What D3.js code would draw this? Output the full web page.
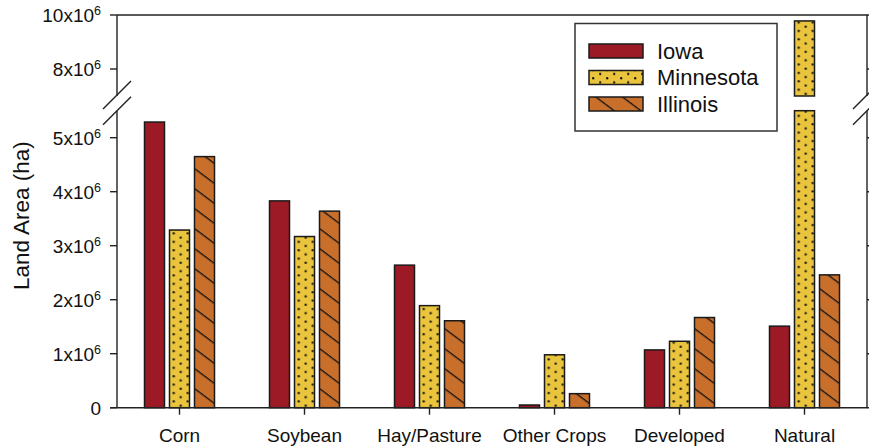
<!DOCTYPE html>
<html>
<head>
<meta charset="utf-8">
<script src="https://cdn.jsdelivr.net/npm/d3@7"></script>
<style>
  html, body { margin: 0; padding: 0; background: #fff; }
  svg { display: block; font-family: "Liberation Sans", Arial, sans-serif; }
</style>
</head>
<body>
<svg id="chart" width="869" height="446"></svg>
<script>
// Land area by land-use class and state (hectares)
const categories = ["Corn", "Soybean", "Hay/Pasture", "Other Crops", "Developed", "Natural"];
const states = ["Iowa", "Minnesota", "Illinois"];
const iowa      = [5.29e6, 3.83e6, 2.64e6, 0.05e6, 1.07e6, 1.51e6];
const minnesota = [3.29e6, 3.17e6, 1.89e6, 0.98e6, 1.23e6, 9.78e6];
const illinois  = [4.65e6, 3.64e6, 1.61e6, 0.26e6, 1.67e6, 2.46e6];

// Broken y axis: lower and upper segments
const lowerDomain = [0, 5.5e6];
const upperDomain = [7e6, 10e6];
const lowerTicks = [0, 1e6, 2e6, 3e6, 4e6, 5e6];
const upperTicks = [8e6, 10e6];

const svg = d3.select("#chart");
const plotLeft = 117, plotRight = 867, plotTop = 15, plotBottom = 407.7;
const lowTop = 110.7, upBottom = 96;

const x = d3.scaleBand().domain(categories).range([plotLeft, plotRight]).padding(0);
const yLow = d3.scaleLinear().domain(lowerDomain).range([plotBottom, lowTop]);
const yUp = d3.scaleLinear().domain(upperDomain).range([upBottom, plotTop]);

const colors = { Iowa: "#9c1a25", Minnesota: "#e9c43c", Illinois: "#c86f2b" };
const barW = 20, barStep = 25;

const defs = svg.append("defs");
let patId = 0;

// Dotted fill anchored at a given left edge
function dotPattern(x0, y0) {
  const id = "dots" + (patId++);
  const p = defs.append("pattern").attr("id", id)
    .attr("patternUnits", "userSpaceOnUse").attr("x", x0).attr("y", y0)
    .attr("width", 14).attr("height", 8.4);
  p.append("rect").attr("width", 14).attr("height", 8.4).attr("fill", colors.Minnesota);
  p.append("circle").attr("cx", 4.2).attr("cy", 2.1).attr("r", 1.15).attr("fill", "#111");
  p.append("circle").attr("cx", 11.2).attr("cy", 6.3).attr("r", 1.15).attr("fill", "#111");
  return "url(#" + id + ")";
}

// Diagonal hatch fill anchored at a given corner
function hatchPattern(x0, y0) {
  const id = "hatch" + (patId++);
  const p = defs.append("pattern").attr("id", id)
    .attr("patternUnits", "userSpaceOnUse").attr("width", 16).attr("height", 16)
    .attr("patternTransform", `translate(${x0},${y0}) rotate(36.87)`);
  p.append("rect").attr("width", 16).attr("height", 16).attr("fill", colors.Illinois);
  p.append("line").attr("x1", 0).attr("x2", 16).attr("y1", 0.5).attr("y2", 0.5)
    .attr("stroke", "#111").attr("stroke-width", 1.6);
  return "url(#" + id + ")";
}

function fillFor(state, x0, y0) {
  if (state === "Minnesota") return dotPattern(x0, y0);
  if (state === "Illinois") return hatchPattern(x0, y0);
  return colors.Iowa;
}

const series = { Iowa: iowa, Minnesota: minnesota, Illinois: illinois };

// Bars
const barG = svg.append("g");
states.forEach((s, si) => {
  series[s].forEach((v, ci) => {
    const cx = x(categories[ci]) + x.bandwidth() / 2 + (si - 1) * barStep;
    const segs = [];
    if (v <= lowerDomain[1]) {
      segs.push([yLow(v), yLow(0)]);
    } else {
      segs.push([yLow(lowerDomain[1]), yLow(0)]);
      segs.push([yUp(v), yUp(upperDomain[0])]);
    }
    segs.forEach(([y0, y1]) => {
      barG.append("rect")
        .attr("x", cx - barW / 2).attr("y", y0)
        .attr("width", barW).attr("height", y1 - y0)
        .attr("fill", fillFor(s, cx - barW / 2, y1))
        .attr("stroke", "#1a1a1a").attr("stroke-width", 1.5);
    });
  });
});

// Frame and axes
const axisColor = "#222";
const frame = svg.append("g").attr("stroke", axisColor).attr("stroke-width", 1.4).attr("fill", "none");
frame.append("line").attr("x1", plotLeft).attr("x2", plotRight).attr("y1", plotTop).attr("y2", plotTop);
frame.append("line").attr("x1", plotLeft - 7).attr("x2", plotRight).attr("y1", plotBottom).attr("y2", plotBottom);
[plotLeft, plotRight].forEach(ax => {
  frame.append("line").attr("x1", ax).attr("x2", ax).attr("y1", plotTop).attr("y2", upBottom);
  frame.append("line").attr("x1", ax).attr("x2", ax).attr("y1", lowTop).attr("y2", plotBottom);
  // break slashes
  [upBottom - 1, lowTop].forEach(yb => {
    frame.append("line").attr("x1", ax - 14).attr("y1", yb + 14)
      .attr("x2", ax + 14).attr("y2", yb - 14);
  });
});

// Tick marks
const tickLen = 7;
const yTicks = lowerTicks.map(t => ({ v: t, y: yLow(t) }))
  .concat(upperTicks.map(t => ({ v: t, y: yUp(t) })));
yTicks.forEach(t => {
  frame.append("line").attr("x1", plotLeft - tickLen).attr("x2", plotLeft).attr("y1", t.y).attr("y2", t.y);
  frame.append("line").attr("x1", plotRight).attr("x2", plotRight + tickLen).attr("y1", t.y).attr("y2", t.y);
});
categories.forEach(c => {
  const cx = x(c) + x.bandwidth() / 2;
  frame.append("line").attr("x1", cx).attr("x2", cx).attr("y1", plotBottom).attr("y2", plotBottom + tickLen);
});

// Y tick labels (a x 10^6)
const labelG = svg.append("g").attr("fill", "#111").attr("font-size", 19);
yTicks.forEach(t => {
  const txt = labelG.append("text").attr("x", plotLeft - 16).attr("y", t.y + 7)
    .attr("text-anchor", "end");
  if (t.v === 0) {
    txt.text("0");
  } else {
    txt.append("tspan").text((t.v / 1e6) + "x10");
    txt.append("tspan").attr("dy", -7).attr("font-size", 12.5).text("6");
  }
});

// Category labels
categories.forEach(c => {
  labelG.append("text").attr("x", x(c) + x.bandwidth() / 2).attr("y", 442)
    .attr("text-anchor", "middle").text(c);
});

// Y axis title
svg.append("text")
  .attr("transform", "translate(29,290) rotate(-90)")
  .attr("text-anchor", "start").attr("font-size", 22.5).attr("fill", "#111")
  .text("Land Area (ha)");

// Legend
const lg = svg.append("g");
lg.append("rect").attr("x", 575).attr("y", 23.5).attr("width", 202).attr("height", 107.5)
  .attr("fill", "#fff").attr("stroke", "#333").attr("stroke-width", 1.5);
states.forEach((s, i) => {
  const yy = 44 + i * 26.5;
  lg.append("rect").attr("x", 589).attr("y", yy).attr("width", 54).attr("height", 14)
    .attr("fill", fillFor(s, 589, yy + 14)).attr("stroke", "#1a1a1a").attr("stroke-width", 1.5);
  lg.append("text").attr("x", 657).attr("y", yy + 14.5).attr("font-size", 22).attr("fill", "#111")
    .text(s);
});
</script>
</body>
</html>
